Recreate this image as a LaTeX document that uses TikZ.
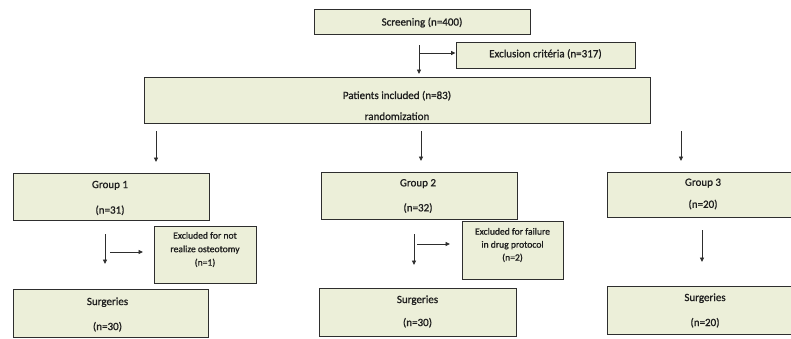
\documentclass[tikz,border=0pt]{standalone}
\usepackage{fontspec}
\setmainfont{Carlito}
\newfontfamily\boxfont{Carlito}[FakeBold=1]
\usetikzlibrary{arrows.meta}
\definecolor{boxfill}{HTML}{ECEFD9}
\definecolor{linec}{HTML}{2E2E2E}
\definecolor{textc}{HTML}{1E1E1E}
\tikzset{
  box/.style={draw=linec, fill=boxfill, line width=1pt, inner sep=0pt},
  lbl/.style={inner sep=0pt, align=center, text=textc, font=\boxfont\fontsize{11}{13}\selectfont},
  lblsmall/.style={lbl, font=\boxfont\fontsize{9.6}{13.5}\selectfont},
  conn/.style={draw=linec, line width=0.9pt, -{Triangle[length=4.5pt,width=4pt]}},
}
\begin{document}
\begin{tikzpicture}[x=1pt,y=-1pt]
\useasboundingbox (0,0) rectangle (791,338);
% boxes
\node[box, minimum width=216pt, minimum height=25pt] (scr) at (422,21.5) {};
\node[box, minimum width=179pt, minimum height=26pt] (excl) at (545.5,55) {};
\node[box, minimum width=506pt, minimum height=46pt] (pat) at (397,100) {};
\node[box, minimum width=196pt, minimum height=47pt] (g1) at (111,196.5) {};
\node[box, minimum width=196pt, minimum height=47pt] (g2) at (419,195.5) {};
\node[box, minimum width=192pt, minimum height=45pt] (g3) at (703,194.5) {};
\node[box, minimum width=102pt, minimum height=57pt] (ex1) at (205,254.5) {};
\node[box, minimum width=101pt, minimum height=58pt] (ex2) at (512.5,250) {};
\node[box, minimum width=195pt, minimum height=48pt] (s1) at (110.5,313) {};
\node[box, minimum width=197pt, minimum height=48pt] (s2) at (417.5,312) {};
\node[box, minimum width=196pt, minimum height=48pt] (s3) at (705,310) {};
% texts
\node[lbl] (scr-t) at ([yshift=-1pt]scr.center) {Screening (n=400)};
\node[lbl] (excl-t) at ([yshift=1pt]excl.center) {Exclusion critéria (n=317)};
\node[lbl, font=\boxfont\fontsize{11}{21}\selectfont] (pat-t) at ([yshift=-5.5pt]pat.center) {Patients included (n=83)\\randomization};
\node[lbl, font=\boxfont\fontsize{11}{25.5}\selectfont] (g1-t) at ([xshift=-1pt,yshift=-1.5pt]g1.center) {Group 1\\(n=31)};
\node[lbl, font=\boxfont\fontsize{11}{25}\selectfont] (g2-t) at ([xshift=-1pt,yshift=-0.5pt]g2.center) {Group 2\\(n=32)};
\node[lbl, font=\boxfont\fontsize{11}{22}\selectfont] (g3-t) at ([yshift=0.5pt]g3.center) {Group 3\\(n=20)};
\node[lblsmall] (ex1-t) at ([yshift=5pt]ex1.center) {Excluded for not\\realize osteotomy\\(n=1)};
\node[lblsmall, font=\boxfont\fontsize{9.6}{13}\selectfont] (ex2-t) at ([yshift=5pt]ex2.center) {Excluded for failure\\in drug protocol\\(n=2)};
\node[lbl, font=\boxfont\fontsize{11}{25}\selectfont] (s1-t) at ([xshift=-3pt,yshift=-1.5pt]s1.center) {Surgeries\\(n=30)};
\node[lbl, font=\boxfont\fontsize{11}{23}\selectfont] (s2-t) at ([yshift=0.5pt]s2.center) {Surgeries\\(n=30)};
\node[lbl, font=\boxfont\fontsize{11}{25}\selectfont] (s3-t) at ([yshift=-0.5pt]s3.center) {Surgeries\\(n=20)};
% connector coordinates
\coordinate (a0) at (419,45);
\coordinate (a0e) at (419,74);
\coordinate (a0b) at (419,53);
\coordinate (b1) at (156,131);
\coordinate (b1e) at (156,162);
\coordinate (b2) at (421,131);
\coordinate (b2e) at (421,161);
\coordinate (b3) at (681,131);
\coordinate (b3e) at (681,161);
\coordinate (c1) at (105,234);
\coordinate (c1e) at (105,264);
\coordinate (c1h) at (110,252);
\coordinate (c1he) at (143,252);
\coordinate (c2) at (414,234);
\coordinate (c2e) at (414,265);
\coordinate (c2h) at (417,244);
\coordinate (c2he) at (450,244);
\coordinate (c3) at (702,230);
\coordinate (c3e) at (702,262);
% connectors
\draw[conn] (a0) -- (a0e);
\draw[conn] (a0b) -- (excl.west |- a0b);
\draw[conn] (b1) -- (b1e);
\draw[conn] (b2) -- (b2e);
\draw[conn] (b3) -- (b3e);
\draw[conn] (c1) -- (c1e);
\draw[conn] (c1h) -- (c1he);
\draw[conn] (c2) -- (c2e);
\draw[conn] (c2h) -- (c2he);
\draw[conn] (c3) -- (c3e);
\end{tikzpicture}
\end{document}
